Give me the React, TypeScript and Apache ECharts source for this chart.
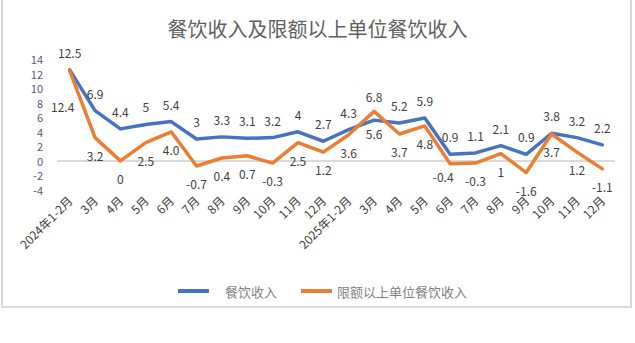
import React, { useEffect, useRef } from "react";
import * as echarts from "echarts";

const categories = [
  "2024年1-2月", "3月", "4月", "5月", "6月", "7月", "8月", "9月", "10月", "11月", "12月",
  "2025年1-2月", "3月", "4月", "5月", "6月", "7月", "8月", "9月", "10月", "11月", "12月",
];
const cateringRevenue = [12.5, 6.9, 4.4, 5, 5.4, 3, 3.3, 3.1, 3.2, 4, 2.7, 4.3, 5.6, 5.2, 5.9, 0.9, 1.1, 2.1, 0.9, 3.8, 3.2, 2.2];
const aboveQuotaRevenue = [12.4, 3.2, 0, 2.5, 4.0, -0.7, 0.4, 0.7, -0.3, 2.5, 1.2, 3.6, 6.8, 3.7, 4.8, -0.4, -0.3, 1, -1.6, 3.7, 1.2, -1.1];
const orangeLabelText = ["12.4", "3.2", "0", "2.5", "4.0", "-0.7", "0.4", "0.7", "-0.3", "2.5", "1.2", "3.6", "6.8", "3.7", "4.8", "-0.4", "-0.3", "1", "-1.6", "3.7", "1.2", "-1.1"];
const yTicks = { min: -4, max: 14, interval: 2 };
const seriesNames = ["餐饮收入", "限额以上单位餐饮收入"];
const title = "餐饮收入及限额以上单位餐饮收入";

const FONT = "'Noto Sans CJK SC', 'Noto Sans', sans-serif";

export default function App() {
  const ref = useRef<HTMLDivElement>(null);
  useEffect(() => {
    if (!ref.current) return;
    const chart = echarts.init(ref.current, null, { renderer: "svg" });

    const blueOverrides: Record<number, any> = {
      12: { position: "bottom", distance: 7 },
    };
    const orangeOverrides: Record<number, any> = {
      0: { position: "bottom", distance: 11, offset: [-7, 18] },
      12: { position: "top", distance: 8 },
      15: { position: "bottom", distance: 6, offset: [-7, 0] },
    };

    const blueData = cateringRevenue.map((v, i) =>
      blueOverrides[i] ? { value: v, label: blueOverrides[i] } : { value: v }
    );
    const orangeData = aboveQuotaRevenue.map((v, i) => {
      const lbl = { formatter: orangeLabelText[i], ...(orangeOverrides[i] || {}) };
      return { value: v, label: lbl };
    });

    const labelStyle = {
      show: true,
      fontSize: 12,
      lineHeight: 13,
      color: "#404040",
      fontFamily: FONT,
      distance: 11,
    };

    chart.setOption({
      animation: false,
      backgroundColor: "#ffffff",
      textStyle: { fontFamily: FONT },
      title: {
        text: title,
        left: "center",
        top: 13,
        textStyle: { fontSize: 20, fontWeight: "normal", color: "#5f5f5f", fontFamily: FONT },
      },
      legend: [
        {
          data: [seriesNames[0]],
          left: 173,
          top: 279,
          icon: "rect",
          itemWidth: 31,
          itemHeight: 4,
          textStyle: { fontSize: 13, lineHeight: 14, color: "#7f7f7f", fontFamily: FONT, padding: [0, 0, 0, 11] },
        },
        {
          data: [seriesNames[1]],
          left: 296,
          top: 279,
          icon: "rect",
          itemWidth: 31,
          itemHeight: 4,
          textStyle: { fontSize: 13, lineHeight: 14, color: "#7f7f7f", fontFamily: FONT },
        },
      ],
      grid: { left: 57, right: 20, top: 59, bottom: 153, containLabel: false },
      xAxis: {
        type: "category",
        data: categories,
        boundaryGap: true,
        axisLine: { show: false },
        axisTick: { show: false },
        axisLabel: {
          interval: 0,
          rotate: 45,
          fontSize: 12,
          lineHeight: 13,
          color: "#404040",
          margin: 8,
          fontFamily: FONT,
        },
      },
      yAxis: {
        type: "value",
        min: yTicks.min,
        max: yTicks.max,
        interval: yTicks.interval,
        axisLine: { show: false },
        axisTick: { show: false },
        splitLine: { show: false },
        axisLabel: { fontSize: 11, lineHeight: 11, color: "#5b5680", margin: 14, fontFamily: FONT },
      },
      graphic: [
        {
          type: "rect",
          shape: { x: 2, y: -2, width: 629, height: 309 },
          style: { fill: "none", stroke: "#d9d9d9", lineWidth: 2 },
          silent: true,
        },
      ],
      series: [
        {
          name: seriesNames[0],
          type: "line",
          data: blueData,
          symbol: "circle",
          symbolSize: 0.01,
          showSymbol: true,
          lineStyle: { color: "#4472C4", width: 3.5, cap: "round", join: "round" },
          itemStyle: { color: "#4472C4" },
          label: { ...labelStyle, position: "top" },
          z: 2,
          markLine: {
            silent: true,
            symbol: "none",
            label: { show: false },
            lineStyle: { color: "#d9d9d9", width: 2, type: "solid" },
            data: [{ yAxis: 0 }],
            z: 1,
          },
        },
        {
          name: seriesNames[1],
          type: "line",
          data: orangeData,
          symbol: "circle",
          symbolSize: 0.01,
          showSymbol: true,
          lineStyle: { color: "#ED7D31", width: 3.5, cap: "round", join: "round" },
          itemStyle: { color: "#ED7D31" },
          label: { ...labelStyle, position: "bottom" },
          z: 3,
        },
      ],
    });
    return () => chart.dispose();
  }, []);
  return (
    <div
      ref={ref}
      style={{ position: "fixed", left: 0, top: 0, width: 635, height: 343, background: "#fff" }}
    />
  );
}
